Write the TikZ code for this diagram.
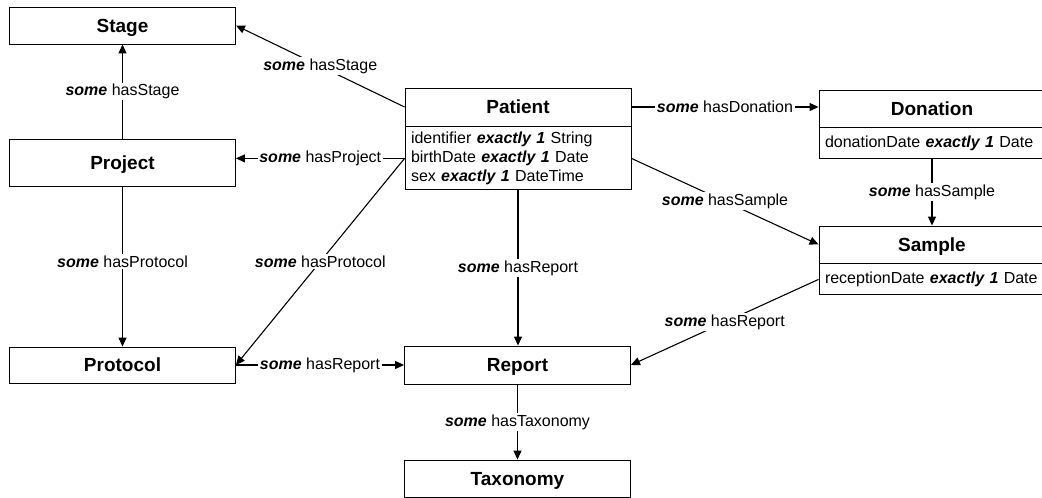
\documentclass[tikz,border=0pt]{standalone}
\usepackage{fontspec}
\setmainfont{Liberation Sans}
\usetikzlibrary{arrows.meta}
\newcommand\kwsome{\textbf{\textit{some}}}
\newcommand\kwex{\textbf{\textit{exactly 1}}}
\begin{document}
\begin{tikzpicture}[x=1pt,y=-1pt,
  cls/.style={draw, line width=0.9pt, minimum width=226pt, minimum height=37pt,
    inner sep=0pt, text height=13.6pt, text depth=0pt,
    font=\fontsize{19}{21}\selectfont\bfseries},
  attr/.style={draw, line width=0.9pt, minimum width=226pt, text width=214pt,
    align=left, inner sep=0pt, anchor=north, font=\fontsize{16}{18.7}\selectfont},
  rel/.style={line width=1.1pt, -{Triangle[length=9pt,width=8pt]}},
  lbl/.style={fill=white, inner sep=1.5pt, font=\fontsize{16}{18}\selectfont},
]
\clip (0,0) rectangle (1042,498);

% classes on the left
\node[cls] (stage) at (122.5,25.5) {Stage};
\node[cls, minimum height=47pt] (proj) at (122.5,162.5) {Project};
\node[cls, minimum height=36pt] (proto) at (122.5,365) {Protocol};

% central column
\node[cls, minimum height=38pt] (pat) at (518,107) {Patient};
\node[attr, minimum height=63pt] (patA) at (pat.south)
  {identifier \kwex{} String\\ birthDate \kwex{} Date\\ sex \kwex{} DateTime};
\node[cls, minimum height=38pt] (rep) at (517.5,365) {Report};
\node[cls] (tax) at (517.5,478.5) {Taxonomy};

% classes on the right
\node[cls] (don) at (932,108.5) {Donation};
\node[attr, minimum height=31pt] (donA) at (don.south) {donationDate \kwex{} Date};
\node[cls] (samp) at (932,244.5) {Sample};
\node[attr, minimum height=31pt] (sampA) at (samp.south) {receptionDate \kwex{} Date};

% relations
\draw[rel] (pat.west) -- node[lbl] {\kwsome{} hasStage} (stage.east);
\draw[rel] (proj.north) -- node[lbl] {\kwsome{} hasStage} (stage.south);
\draw[rel] (patA.west) -- node[lbl] {\kwsome{} hasProject} (patA.west -| proj.east);
\draw[rel] (patA.west) -- node[lbl] {\kwsome{} hasProtocol} (proto.east);
\draw[rel] (proj.south) -- node[lbl, pos=0.47] {\kwsome{} hasProtocol} (proto.north);
\draw[rel] (proto.east) -- node[lbl] {\kwsome{} hasReport} (rep.west);
\draw[rel] (patA.south) -- node[lbl] {\kwsome{} hasReport} (patA.south |- rep.north);
\draw[rel] (rep.south) -- node[lbl] {\kwsome{} hasTaxonomy} (tax.north);
\draw[rel] (pat.east) -- node[lbl] {\kwsome{} hasDonation} (pat.east -| don.west);
\draw[rel] (patA.east) -- node[lbl] {\kwsome{} hasSample} (samp.west);
\draw[rel] (donA.south) -- node[lbl] {\kwsome{} hasSample} (samp.north);
\draw[rel] (sampA.west) -- node[lbl] {\kwsome{} hasReport} (rep.east);
\end{tikzpicture}
\end{document}
